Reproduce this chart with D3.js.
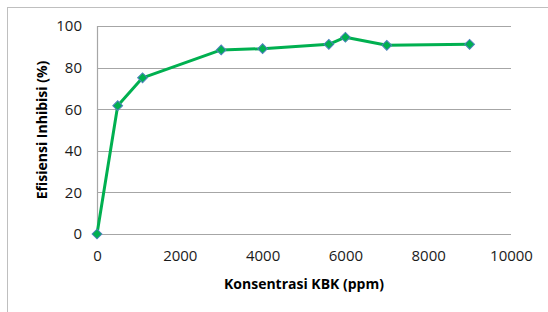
<!DOCTYPE html>
<html>
<head>
<meta charset="utf-8">
<script src="https://cdn.jsdelivr.net/npm/d3@7"></script>
<style>
  body { margin: 0; background: #fff; }
  text { font-family: "Open Sans", "Liberation Sans", sans-serif; }
</style>
</head>
<body>
<div id="chart"></div>
<script>
// Data
const konsentrasi = [0, 500, 1100, 3000, 4000, 5600, 6000, 7000, 9000];
const efisiensi = [0, 61.7, 75.1, 88.5, 89.1, 91.2, 94.6, 90.7, 91.2];
const xTicks = [0, 2000, 4000, 6000, 8000, 10000];
const yTicks = [0, 20, 40, 60, 80, 100];

const W = 548, H = 312;
const margin = { top: 26, right: 37, bottom: 78, left: 97 };
const width = W - margin.left - margin.right,
    height = H - margin.top - margin.bottom;

const svg = d3.select("#chart")
    .append("svg")
    .attr("width", W)
    .attr("height", H);

// Bingkai luar
svg.append("rect")
    .attr("x", 7.5).attr("y", 7.5)
    .attr("width", W).attr("height", H)
    .attr("fill", "none")
    .attr("stroke", "#bfbfbf");

const g = svg.append("g")
    .attr("transform", `translate(${margin.left},${margin.top})`);

const x = d3.scaleLinear().domain([0, 10000]).range([0, width]);
const y = d3.scaleLinear().domain([0, 100]).range([height, 0]);

// Grid
g.selectAll(".grid")
    .data(yTicks)
    .join("line")
    .attr("x1", 0).attr("x2", width)
    .attr("y1", d => Math.round(y(d)) + 0.5)
    .attr("y2", d => Math.round(y(d)) + 0.5)
    .attr("stroke", "#a6a6a6")
    .attr("stroke-width", 1.2);

g.append("line")
    .attr("x1", 0.5).attr("x2", 0.5)
    .attr("y1", 0).attr("y2", height)
    .attr("stroke", "#a6a6a6")
    .attr("stroke-width", 1.2);

// Label sumbu
const yAxis = g.append("g")
    .call(d3.axisLeft(y).tickValues(yTicks).tickSize(0).tickPadding(15).tickFormat(d3.format("d")));
yAxis.select(".domain").remove();
yAxis.selectAll("text").style("font-size", "15px").attr("fill", "#1a1a1a");

const xAxis = g.append("g")
    .attr("transform", `translate(0,${height})`)
    .call(d3.axisBottom(x).tickValues(xTicks).tickSize(0).tickPadding(16).tickFormat(d3.format("d")));
xAxis.select(".domain").remove();
xAxis.selectAll("text").style("font-size", "15px").attr("fill", "#1a1a1a");

// Judul sumbu
svg.append("text")
    .attr("transform", "translate(47,130) rotate(-90)")
    .attr("text-anchor", "middle")
    .style("font-size", "14px")
    .style("font-weight", "bold")
    .text("Efisiensi Inhibisi (%)");

svg.append("text")
    .attr("x", 304).attr("y", 289)
    .attr("text-anchor", "middle")
    .style("font-size", "14px")
    .style("font-weight", "bold")
    .text("Konsentrasi KBK (ppm)");

// Garis
const data = konsentrasi.map((k, i) => ({ k: k, e: efisiensi[i] }));
g.append("path")
    .datum(data)
    .attr("fill", "none")
    .attr("stroke", "#00b050")
    .attr("stroke-width", 3)
    .attr("stroke-linejoin", "round")
    .attr("d", d3.line().x(d => x(d.k)).y(d => y(d.e)));

// Marker
g.selectAll(".pt")
    .data(data)
    .join("path")
    .attr("transform", d => `translate(${x(d.k)},${y(d.e)}) rotate(45)`)
    .attr("d", d3.symbol(d3.symbolSquare, 48))
    .attr("fill", "#00b050")
    .attr("stroke", "#4f81bd")
    .attr("stroke-width", 1);
</script>
</body>
</html>
